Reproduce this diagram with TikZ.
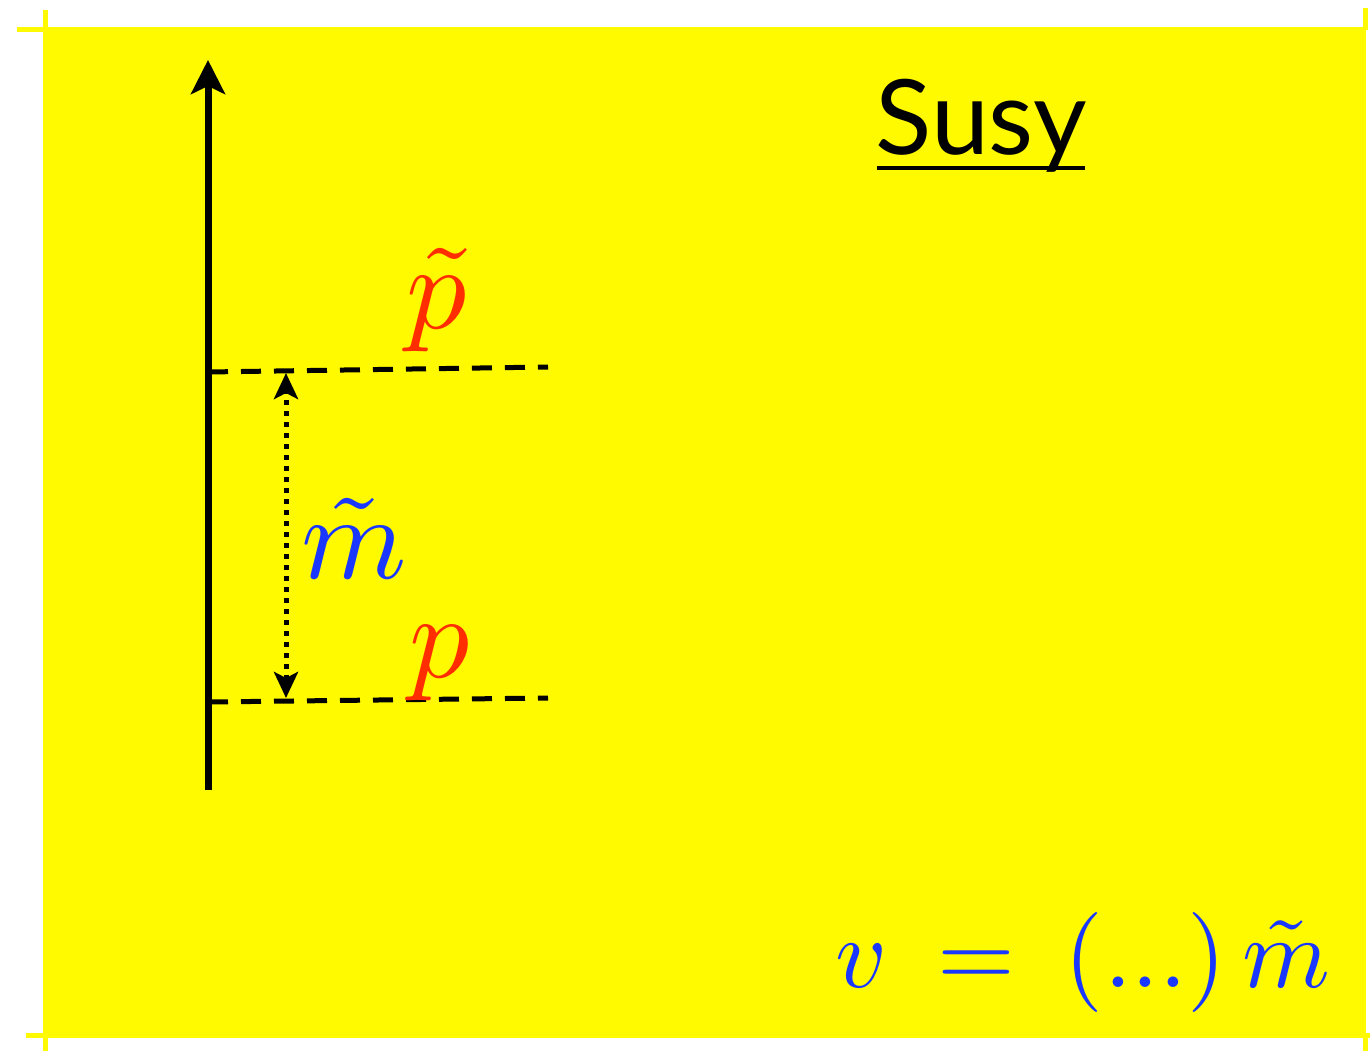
\documentclass[tikz,border=0pt]{standalone}
\usepackage{graphicx}
\usepackage{fontspec}
\newfontfamily\titlefont{Lato}
\usetikzlibrary{arrows.meta}
\definecolor{bgyellow}{RGB}{255,250,0}
\definecolor{lblred}{RGB}{255,45,0}
\definecolor{lblblue}{RGB}{25,55,255}
\newcommand{\hugemath}[1]{\scalebox{10}{$#1$}}
\newcommand{\labelmath}[1]{\scalebox{12}{$#1$}}
\tikzset{
  axisline/.style={line width=7pt,-{Stealth[length=34pt,width=34pt,inset=8pt]}},
  levelline/.style={line width=5pt,dash pattern=on 20pt off 13pt},
  gapline/.style={line width=5pt,dash pattern=on 5pt off 6pt,{Stealth[length=26pt,width=24pt,inset=6pt]}-{Stealth[length=26pt,width=24pt,inset=6pt]}},
  bigmath/.style={inner sep=0pt,anchor=base},
  cropmark/.style={line width=5pt,bgyellow}
}
\begin{document}
\begin{tikzpicture}[x=1pt,y=-1pt]
\useasboundingbox (0,0) rectangle (1370,1051);
\fill[bgyellow] (43,27) rectangle (1366,1038);
% crop marks
\draw[cropmark] (17,30) -- (43,30);
\draw[cropmark] (45,10) -- (45,30);
\draw[cropmark] (26,1035) -- (43,1035);
\draw[cropmark] (45,1035) -- (45,1051);
\draw[cropmark] (1365,8) -- (1365,30);
\draw[cropmark] (1366,1035) -- (1370,1035);
\draw[cropmark] (1365,1035) -- (1365,1051);
% axis
\coordinate (axbot) at (208,790);
\coordinate (axtop) at (208,60);
\draw[axisline] (axbot) -- (axtop);
% levels
\coordinate (hiL) at (208,372);
\coordinate (hiR) at (548,367);
\coordinate (loL) at (208,702);
\coordinate (loR) at (548,698);
\draw[levelline] (hiL) -- (hiR);
\draw[levelline] (loL) -- (loR);
\coordinate (gaptop) at (286,373);
\coordinate (gapbot) at (286,698);
\draw[gapline] (gapbot) -- (gaptop);
% labels
\node[bigmath,text=lblred] (ptilde) at (437,328) {\labelmath{\tilde p}};
\node[bigmath,text=lblred] (plow) at (440,677) {\labelmath{p}};
\node[bigmath,text=lblblue] (mtilde) at (354,578) {\labelmath{\tilde m}};
\node[bigmath,text=lblblue] (formula) at (1083,987) {\hugemath{v\:=\:(...)\,\tilde m}};
% title
\node[inner sep=0pt,anchor=base,font=\titlefont\fontsize{104}{124}\selectfont] (title) at (981,155) {Susy};
\draw[line width=4pt] (877,168) -- (1085,168);
\end{tikzpicture}
\end{document}
